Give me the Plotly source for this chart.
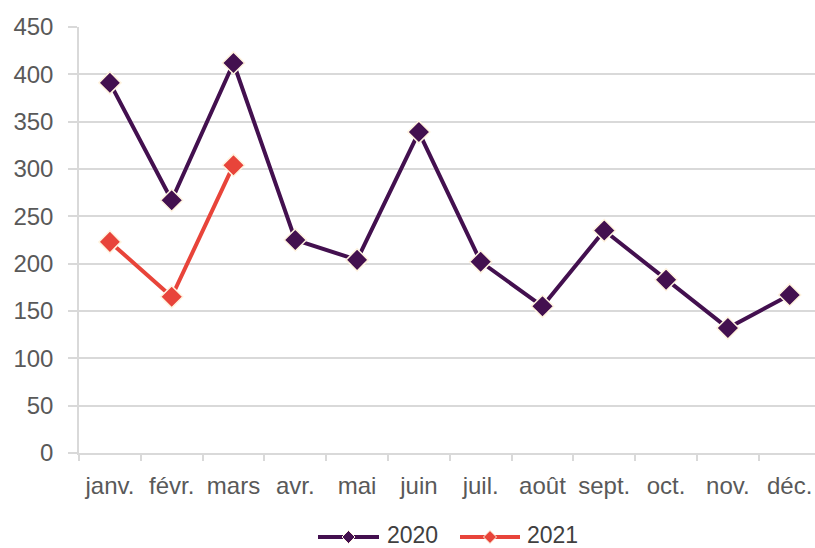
import plotly.graph_objects as go

months = ["janv.", "févr.", "mars", "avr.", "mai", "juin", "juil.", "août", "sept.", "oct.", "nov.", "déc."]
values_2020 = [391, 267, 412, 225, 204, 339, 202, 155, 235, 183, 132, 167]
months_2021 = ["janv.", "févr.", "mars"]
values_2021 = [223, 165, 304]
series_names = ["2020", "2021"]

purple = "#43104F"
red = "#E8443A"
outline = "#FFF3DF"
grid = "#D9D9D9"
colors = [purple, red]

W, H = 815, 548
L, R, T, B = 79, 0, 27, 95
pw, ph = W - L - R, H - T - B

fig = go.Figure()
fig.add_trace(go.Scatter(
    x=months, y=values_2020, name=series_names[0], mode="lines+markers",
    line=dict(color=purple, width=4),
    marker=dict(symbol="diamond", size=17, color=purple, line=dict(color=outline, width=1.5)),
))
fig.add_trace(go.Scatter(
    x=months_2021, y=values_2021, name=series_names[1], mode="lines+markers",
    line=dict(color=red, width=4),
    marker=dict(symbol="diamond", size=17, color=red, line=dict(color=outline, width=1.5)),
))

fam = "Liberation Sans, Arial, Helvetica, sans-serif"
font = dict(family=fam, size=24, color="#595959")

def px(x):
    return (x - L) / pw

def py(y):
    return (T + ph - y) / ph

shapes = []
annotations = []
legend_y = 537
text_y = 535
items = [(318, 379, 385), (460, 520, 525)]
for (x0, x1, tx), name, col in zip(items, series_names, colors):
    shapes.append(dict(type="line", xref="paper", yref="paper",
                       x0=px(x0), x1=px(x1), y0=py(legend_y), y1=py(legend_y),
                       line=dict(color=col, width=4)))
    cx = (x0 + x1) / 2
    d = 6.5
    path = "M {} {} L {} {} L {} {} L {} {} Z".format(
        px(cx), py(legend_y - d), px(cx + d), py(legend_y),
        px(cx), py(legend_y + d), px(cx - d), py(legend_y))
    shapes.append(dict(type="path", xref="paper", yref="paper", path=path,
                       fillcolor=col, line=dict(color=outline, width=1)))
    annotations.append(dict(text=name, xref="paper", yref="paper", x=px(tx), y=py(text_y),
                            xanchor="left", yanchor="middle", showarrow=False,
                            font=dict(family=fam, size=23, color="#404040")))

fig.update_layout(
    width=W, height=H,
    margin=dict(l=L, r=R, t=T, b=B, autoexpand=False),
    paper_bgcolor="white", plot_bgcolor="white",
    font=font,
    showlegend=False,
    shapes=shapes,
    annotations=annotations,
    xaxis=dict(
        type="category", categoryorder="array", categoryarray=months,
        range=[-0.5, 11.41], automargin=False, tickangle=0,
        showgrid=False, showline=True, linecolor=grid, linewidth=1.5,
        ticks="outside", tickson="boundaries", ticklen=6, tickcolor=grid, tickwidth=1.5,
        tickfont=font, zeroline=False, ticklabelstandoff=10,
    ),
    yaxis=dict(
        range=[0, 450], dtick=50, tick0=0, automargin=False,
        showgrid=True, gridcolor=grid, gridwidth=1.5,
        showline=True, linecolor=grid, linewidth=1.5,
        zeroline=False, ticks="outside", ticklen=9, tickcolor=grid, tickwidth=1.5,
        ticklabelstandoff=10,
        tickfont=font,
    ),
)

fig.write_html(
    "out.html",
    config={"displayModeBar": False},
    post_script="document.body.style.margin='0px';document.body.style.overflow='hidden';",
)
